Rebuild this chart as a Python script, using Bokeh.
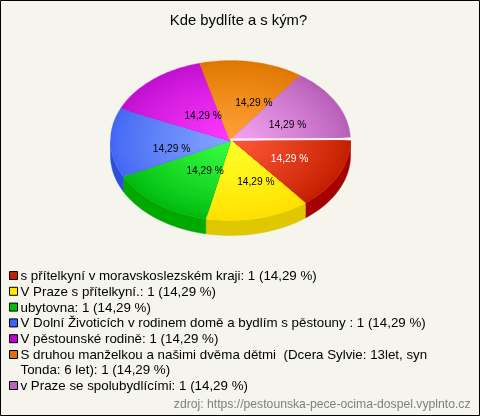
import math
from bokeh.plotting import figure
from bokeh.models import Range1d
from bokeh.core.properties import value
from bokeh.embed import file_html
from bokeh.resources import INLINE

title = "Kde bydlíte a s kým?"
source_note = "zdroj: https://pestounska-pece-ocima-dospel.vyplnto.cz"
categories = [
    "s přítelkyní v moravskoslezském kraji",
    "V Praze s přítelkyní.",
    "ubytovna",
    "V Dolní Životicích v rodinem domě a bydlím s pěstouny ",
    "V pěstounské rodině",
    "S druhou manželkou a našimi dvěma dětmi \u00a0(Dcera Sylvie: 13let, syn\nTonda: 6 let)",
    "v Praze se spolubydlícími",
]
counts = [1, 1, 1, 1, 1, 1, 1]
percent_labels = ["14,29 %"] * 7
rim_colors = ["#C41F00", "#FFE000", "#00BC10", "#4468F4", "#C010D0", "#E07800", "#B860B8"]
centre_colors = ["#FF5838", "#FFFF28", "#38FF40", "#84A4FF", "#FF38FF", "#FFA038", "#F4A4F4"]
side_colors = ["#A60000", "#E0C800", "#00A800", "#2C50DC", "#A000B0", "#C06000", "#984898"]
marker_colors = ["#C02000", "#FFE800", "#00C000", "#4060FF", "#C000D0", "#E07000", "#C060C0"]
label_colors = ["#FFFFFF", "#000000", "#000000", "#000000", "#000000", "#000000", "#000000"]
label_dx = [5, 12, 12, 1, 10, 10, 3]
label_dy = [1, 2, -1, 8, 6, 1, 1]
edge_nudge_deg = [0, 0, -1, -1, -2, -2, -3, -2.4]

W, H = 480, 416
CX, CY, RX, RY, DEPTH = 230, 140, 120, 80, 15
LEVELS = 26

p = figure(width=W, height=H, output_backend="svg", toolbar_location=None,
           x_range=Range1d(0, W), y_range=Range1d(H, 0),
           min_border=0, background_fill_color="#F5F5ED",
           border_fill_color="#F5F5ED", outline_line_color="#000000")
p.axis.visible = False
p.grid.visible = False
p.styles = {"position": "fixed", "left": "0", "top": "0"}


def mix(a, b, t):
    ca = [int(a[i:i + 2], 16) for i in (1, 3, 5)]
    cb = [int(b[i:i + 2], 16) for i in (1, 3, 5)]
    return "#%02X%02X%02X" % tuple(round(x + (y - x) * t) for x, y in zip(ca, cb))


def arc(a0, a1, n=40):
    return [a0 + (a1 - a0) * i / n for i in range(n + 1)]


total = sum(counts)
edges = [0.0]
for c in counts:
    edges.append(edges[-1] + 2 * math.pi * c / total)
edges = [e + math.radians(n) for e, n in zip(edges, edge_nudge_deg)]

# side wall, lower half only
for i in range(len(counts)):
    a0, a1 = edges[i], min(edges[i + 1], math.pi)
    if a0 >= math.pi:
        continue
    t = arc(a0, a1)
    xs = [CX + RX * math.cos(a) for a in t]
    ys = [CY + RY * math.sin(a) for a in t]
    p.patch(xs + xs[::-1], ys + [y + DEPTH for y in ys[::-1]],
            fill_color=side_colors[i], line_color=side_colors[i], line_width=0.5)

# top face, nested sectors for the radial shading
for i in range(len(counts)):
    a0, a1 = edges[i], edges[i + 1]
    for k in range(LEVELS):
        f = 1 - k / LEVELS
        col = mix(rim_colors[i], centre_colors[i], (k / (LEVELS - 1)) ** 0.85)
        t = arc(a0, a1)
        xs = [CX] + [CX + f * RX * math.cos(a) for a in t]
        ys = [CY] + [CY + f * RY * math.sin(a) for a in t]
        p.patch(xs, ys, fill_color=col, line_color=col, line_width=0.3)

# pale seam between last and first slice
p.line([CX, CX + RX], [CY - 1, CY - 1.6], line_color="#FFF8F4", line_width=2)

# percent labels
FONT = value("Liberation Sans")
lx, ly = [], []
for i in range(len(counts)):
    m = math.radians(360 * (i + 0.5) / len(counts))
    lx.append(CX + 0.5 * RX * math.cos(m) + label_dx[i])
    ly.append(CY + 0.5 * RY * math.sin(m) + label_dy[i])
p.text(lx, ly, text=percent_labels, text_color=label_colors, text_font=FONT,
       text_font_size="10.2px", text_align="center", text_baseline="middle")

# title
p.text([W / 2 - 2], [19], text=[title], text_font=FONT, text_font_size="14.8px",
       text_color="#000000", text_align="center", text_baseline="middle")

# legend
LEG_Y0, LEG_STEP, LEG_LINE = 275, 15.8, 15
y = LEG_Y0
for i, cat in enumerate(categories):
    parts = cat.split("\n")
    parts[-1] = f"{parts[-1]}: {counts[i]} ({percent_labels[i]})"
    p.rect([13], [y], width=8, height=8, fill_color=marker_colors[i],
           line_color="#000000", line_width=1)
    for j, line in enumerate(parts):
        p.text([20], [y + j * LEG_LINE], text=[line], text_font=FONT,
               text_font_size="13.33px", text_color="#000000",
               text_align="left", text_baseline="middle")
    y += LEG_STEP * len(parts) - (0.6 if len(parts) > 1 else 0)

# source note
p.text([470], [403], text=[source_note], text_font=FONT, text_font_size="12.2px",
       text_color="#808080", text_align="right", text_baseline="middle")

open("out.html", "w").write(file_html(p, INLINE))
